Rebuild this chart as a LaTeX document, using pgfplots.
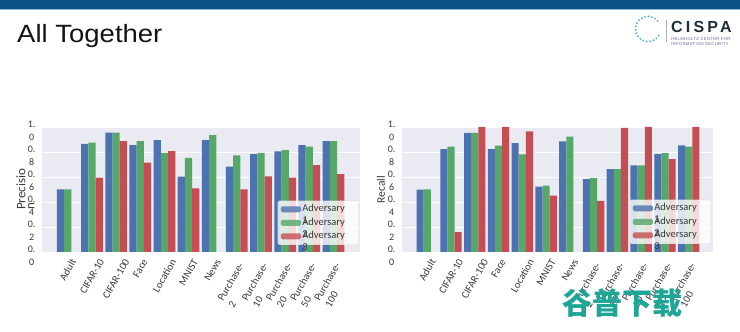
\documentclass[border=0pt]{standalone}
\usepackage{graphicx}
\usepackage{pgfplots}
\pgfplotsset{compat=1.18}
\usepackage{fontspec}
\setmainfont{Carlito}
\newfontfamily\arialfont{Liberation Sans}
\newfontfamily\cispafont{Liberation Sans}[LetterSpace=20]
\newfontfamily\smallcispa{Liberation Sans}[LetterSpace=8]
\newfontfamily\cjk{Noto Sans CJK SC}
\definecolor{sbblue}{HTML}{4C72B0}
\definecolor{sbgreen}{HTML}{55A868}
\definecolor{sbred}{HTML}{C44E52}
\definecolor{sbbg}{HTML}{EAEAF2}
\definecolor{tickc}{HTML}{3A3A3A}
\definecolor{topbar}{HTML}{0B5385}
\definecolor{toplight}{HTML}{8FB6D3}
\definecolor{wm}{HTML}{1FA596}
\definecolor{cispac}{HTML}{1E2D3D}
\definecolor{cispadot}{HTML}{5FB0D2}
\newcommand{\rl}[1]{\rotatebox{60}{#1}}
\newcommand{\rll}[1]{\rotatebox{60}{\begin{tabular}{@{}l@{}}Purchase-\\#1\end{tabular}}}
\newcommand{\adv}[1]{\rlap{\raisebox{-12pt}[0pt][0pt]{#1}}\makebox[52pt][l]{Adversary}}
\pgfplotsset{
  sbstyle/.style={
    scale only axis, height=125pt,
    ymin=0, ymax=1,
    axis background/.style={fill=sbbg},
    axis line style={draw=none},
    major tick length=0pt,
    ymajorgrids, grid style={white, line width=0.9pt},
    ytick={0,0.2,0.4,0.6,0.8,1},
    yticklabels={{0.\\0},{0.\\2},{0.\\4},{0.\\6},{0.\\8},{1.\\0}},
    yticklabel style={align=center, font=\fontsize{10}{12.5}\selectfont, text=tickc, xshift=-3pt, yshift=-4pt},
    xtick={0,1,2,3,4,5,6},
    xticklabels={\rl{Adult},\rl{CIFAR-10},\rl{CIFAR-100},\rl{Face},\rl{Location},\rl{MNIST},\rl{News}},
    xticklabel style={anchor=north, font=\fontsize{10.5}{12.5}\selectfont, text=tickc, inner sep=0pt, yshift=-6pt},
    extra x ticks={7,8,9,10,11},
    extra x tick labels={\rll{2},\rll{10},\rll{20},\rll{50},\rll{100}},
    extra x tick style={major tick length=0pt, xticklabel style={yshift=-3pt}},
    ylabel style={anchor=center, text=tickc},
    legend cell align=left,
    legend style={anchor=south east, fill=white, fill opacity=0.8, text opacity=1,
      draw=gray!35, draw opacity=0.8, rounded corners=1.5pt,
      font=\fontsize{10.5}{12}\selectfont, text=tickc,
      inner xsep=3pt, inner ysep=2pt, row sep=0.5pt,
      nodes={inner sep=1.5pt, text height=7.5pt, text depth=2.5pt}},
  },
  bblue/.style={ybar, bar width=0.3, bar shift=-0.3, fill=sbblue, draw=none,
    legend image code/.code={\fill[sbblue] (0pt,-3pt) rectangle (20pt,3pt);}},
  bgreen/.style={ybar, bar width=0.3, bar shift=0, fill=sbgreen, draw=none,
    legend image code/.code={\fill[sbgreen] (0pt,-3pt) rectangle (20pt,3pt);}},
  bred/.style={ybar, bar width=0.3, bar shift=0.3, fill=sbred, draw=none,
    legend image code/.code={\fill[sbred] (0pt,-3pt) rectangle (20pt,3pt);}},
}
\begin{document}
\begin{tikzpicture}
\useasboundingbox (0,0) rectangle (740pt,332pt);
\fill[white] (0,0) rectangle (740pt,332pt);
% top banner
\fill[topbar] (0,323pt) rectangle (740pt,332pt);
\fill[toplight] (0,322pt) rectangle (740pt,323pt);
% title
\node[anchor=base west, inner sep=0pt, text=black!92] at (17pt,289pt)
  {\arialfont\fontsize{25}{30}\selectfont\scalebox{1.1}[1]{All Together}};
% CISPA logo
\foreach \a in {40,56,...,330} {
  \fill[cispadot] ({648pt+12.5pt*cos(\a)},{303pt+12.5pt*sin(\a)}) circle (1.1pt);
}
\draw[gray!60, line width=0.5pt] (666pt,290pt) -- (666pt,312pt);
\node[anchor=base west, inner sep=0pt, text=cispac] at (671pt,299pt)
  {\cispafont\bfseries\fontsize{16}{18}\selectfont CISPA};
\node[anchor=base west, inner sep=0pt, text=gray!80!blue, align=left] at (671pt,291pt)
  {\smallcispa\fontsize{4.2}{4.6}\selectfont HELMHOLTZ CENTER FOR};
\node[anchor=base west, inner sep=0pt, text=gray!80!blue, align=left] at (671pt,286.5pt)
  {\smallcispa\fontsize{4.2}{4.6}\selectfont INFORMATION SECURITY};

% Precision chart
\begin{axis}[sbstyle, at={(42pt,80pt)}, anchor=south west, width=318pt,
  xmin=-1.07, xmax=12.1,
  ylabel={\rlap{\raisebox{-9pt}[0pt][0pt]{n}}Precisio},
  ylabel style={at={(axis description cs:-0.066,0.5)}, font=\fontsize{13}{15}\selectfont},
  legend style={at={(0.997,0.056)}}]
\addplot[bblue] coordinates {(0,0.50) (1,0.865) (2,0.955) (3,0.854) (4,0.894) (5,0.602) (6,0.894) (7,0.682) (8,0.782) (9,0.804) (10,0.854) (11,0.886)};
\addplot[bgreen] coordinates {(0,0.50) (1,0.875) (2,0.955) (3,0.886) (4,0.793) (5,0.753) (6,0.934) (7,0.772) (8,0.793) (9,0.814) (10,0.843) (11,0.886)};
\addplot[bred] coordinates {(1,0.594) (2,0.886) (3,0.714) (4,0.806) (5,0.509) (7,0.501) (8,0.605) (9,0.594) (10,0.695) (11,0.623)};
\addlegendentry{\adv{1}}
\addlegendentry{\adv{2}}
\addlegendentry{\adv{3}}
\end{axis}

% Recall chart
\begin{axis}[sbstyle, at={(402pt,80pt)}, anchor=south west, width=311pt,
  xmin=-1.06, xmax=12.02,
  ylabel={Recall},
  ylabel style={at={(axis description cs:-0.0675,0.5)}, font=\fontsize{11.5}{13}\selectfont},
  legend style={at={(0.9936,0.064)}}]
\addplot[bblue] coordinates {(0,0.499) (1,0.823) (2,0.952) (3,0.823) (4,0.871) (5,0.523) (6,0.885) (7,0.582) (8,0.662) (9,0.692) (10,0.783) (11,0.853)};
\addplot[bgreen] coordinates {(0,0.50) (1,0.842) (2,0.952) (3,0.85) (4,0.78) (5,0.531) (6,0.922) (7,0.592) (8,0.662) (9,0.692) (10,0.791) (11,0.842)};
\addplot[bred] coordinates {(1,0.158) (2,1.0) (3,1.0) (4,0.965) (5,0.45) (7,0.408) (8,0.992) (9,1.0) (10,0.743) (11,1.0)};
\addlegendentry{\adv{1}}
\addlegendentry{\adv{2}}
\addlegendentry{\adv{3}}
\end{axis}

% watermark
\node[text=wm, inner sep=0pt] at (622pt,29pt) {\cjk\bfseries\fontsize{30}{32}\selectfont 谷普下载};
\end{tikzpicture}
\end{document}
